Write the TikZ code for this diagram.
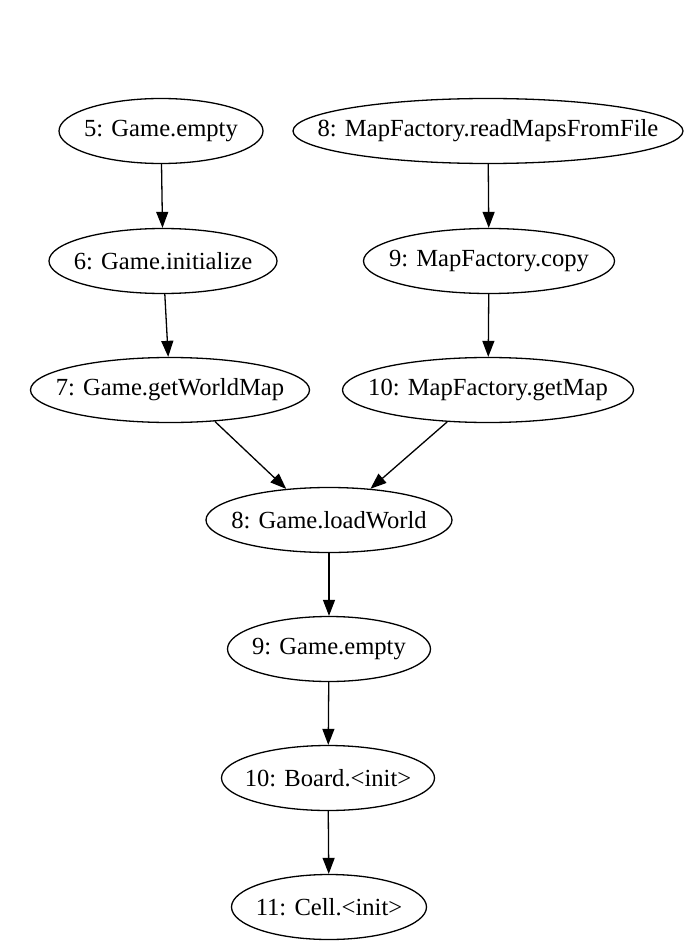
\documentclass[tikz,border=0pt]{standalone}
\usepackage{fontspec}
\setmainfont{Liberation Serif}
\usetikzlibrary{arrows.meta,shapes.geometric}
\begin{document}
\begin{tikzpicture}[x=1pt,y=-1pt,
  gnode/.style={draw, ellipse, line width=1.3pt, inner sep=0pt, minimum height=65pt,
    font=\fontsize{24.6}{29}\selectfont},
  garrow/.style={-{Triangle[length=16pt,width=12pt]}, line width=1.3pt}]
\useasboundingbox[fill=white] (0,0) rectangle (686,952);
\node[gnode, minimum width=204pt] (n5)  at (161,131) {\makebox[0pt]{5: Game.empty}};
\node[gnode, minimum width=390pt] (n8m) at (488,131) {\makebox[0pt]{8: MapFactory.readMapsFromFile}};
\node[gnode, minimum width=228pt] (n6)  at (163,261) {\makebox[0pt]{6: Game.initialize}};
\node[gnode, minimum width=251pt] (n9m) at (489,261) {\makebox[0pt]{9: MapFactory.copy}};
\node[gnode, minimum width=279pt] (n7)  at (170,390) {\makebox[0pt]{7: Game.getWorldMap}};
\node[gnode, minimum width=291pt] (n10m) at (488,390) {\makebox[0pt]{10: MapFactory.getMap}};
\node[gnode, minimum width=246pt] (n8l) at (329,520) {\makebox[0pt]{8: Game.loadWorld}};
\node[gnode, minimum width=203pt] (n9g) at (329,649) {\makebox[0pt]{9: Game.empty}};
\node[gnode, minimum width=213pt] (n10b) at (328,778) {\makebox[0pt]{10: Board.<init>}};
\node[gnode, minimum width=195pt] (n11c) at (329,907) {\makebox[0pt]{11: Cell.<init>}};
\draw[garrow] (n5) -- (n6);
\draw[garrow] (n8m) -- (n9m);
\draw[garrow] (n6) -- (n7);
\draw[garrow] (n9m) -- (n10m);
\draw[garrow] (n7.-35.7) -- (n8l.144);
\draw[garrow] (n10m.-142.3) -- (n8l.37.5);
\draw[garrow] (n8l) -- (n9g);
\draw[garrow] (n9g) -- (n10b);
\draw[garrow] (n10b) -- (n11c);
\end{tikzpicture}
\end{document}
